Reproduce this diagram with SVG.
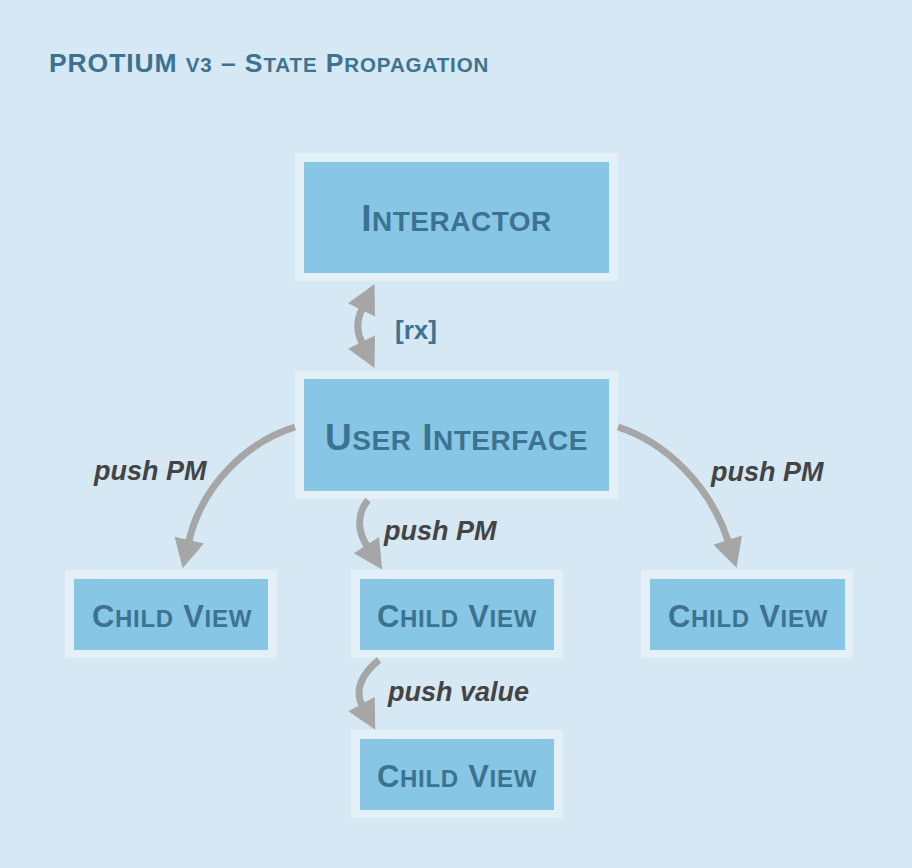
<svg xmlns="http://www.w3.org/2000/svg" width="912" height="868" viewBox="0 0 912 868">
<style>
.outer{fill:#e3f0f8}
.inner{fill:#87c6e5}
.nt{font-family:"Liberation Sans",Arial,sans-serif;font-weight:bold;fill:#3c7390;text-anchor:middle;letter-spacing:0.5px}
.cv{letter-spacing:0.7px}
.lbl{font-family:"Liberation Sans",Arial,sans-serif;font-weight:bold;font-style:italic;fill:#444;font-size:27px}
.conn{fill:none;stroke:#a6a6a6;stroke-width:7}
</style>
<defs>
<marker id="ah" markerUnits="userSpaceOnUse" markerWidth="34" markerHeight="34" refX="1" refY="15" orient="auto-start-reverse" overflow="visible">
<path d="M0,0 L29,15 L0,30 z" fill="#a6a6a6"/>
</marker>
</defs>
<rect width="912" height="868" fill="#d6e8f3"/>
<text x="49" y="72" font-family="Liberation Sans,Arial,sans-serif" font-weight="bold" fill="#3c7390" font-size="26.5" letter-spacing="0.9">PROTIUM <tspan font-size="20.5">V3</tspan> – S<tspan font-size="20.5">TATE</tspan> P<tspan font-size="20.5">ROPAGATION</tspan></text>

<g id="interactor">
<rect class="outer" x="295" y="153" width="323" height="128"/>
<rect class="inner" x="304" y="162" width="305" height="111"/>
<text class="nt" x="456.5" y="231" font-size="37">I<tspan font-size="28">NTERACTOR</tspan></text>
</g>
<g id="user-interface">
<rect class="outer" x="295" y="371" width="323" height="128"/>
<rect class="inner" x="304" y="379" width="305" height="112"/>
<text class="nt" x="456.5" y="450" font-size="37">U<tspan font-size="28">SER</tspan> I<tspan font-size="28">NTERFACE</tspan></text>
</g>
<g id="child-left">
<rect class="outer" x="65" y="570" width="212" height="88"/>
<rect class="inner" x="74" y="579" width="194" height="71"/>
<text class="nt cv" x="172" y="627" font-size="31">C<tspan font-size="24">HILD</tspan> V<tspan font-size="24">IEW</tspan></text>
</g>
<g id="child-middle">
<rect class="outer" x="351" y="570" width="212" height="88"/>
<rect class="inner" x="360" y="579" width="194" height="71"/>
<text class="nt cv" x="457" y="627" font-size="31">C<tspan font-size="24">HILD</tspan> V<tspan font-size="24">IEW</tspan></text>
</g>
<g id="child-right">
<rect class="outer" x="641" y="570" width="212" height="88"/>
<rect class="inner" x="650" y="579" width="195" height="71"/>
<text class="nt cv" x="748" y="627" font-size="31">C<tspan font-size="24">HILD</tspan> V<tspan font-size="24">IEW</tspan></text>
</g>
<g id="child-bottom">
<rect class="outer" x="351" y="730" width="212" height="88"/>
<rect class="inner" x="360" y="739" width="194" height="71"/>
<text class="nt cv" x="457" y="787" font-size="31">C<tspan font-size="24">HILD</tspan> V<tspan font-size="24">IEW</tspan></text>
</g>

<g id="connectors">
<path class="conn" d="M362 309 Q353.5 326 362 343" marker-start="url(#ah)" marker-end="url(#ah)"/>
<path class="conn" d="M295 427 C247 442 202 485 189 541" marker-end="url(#ah)"/>
<path class="conn" d="M618 427 C665 442 710 485 728 541" marker-end="url(#ah)"/>
<path class="conn" d="M368 500 C356 515 358 532 367 546" marker-end="url(#ah)"/>
<path class="conn" d="M379 660 C360 675 355 692 362 705" marker-end="url(#ah)"/>
<text x="395" y="339" font-family="Liberation Sans,Arial,sans-serif" font-weight="bold" fill="#3c7390" font-size="26">[rx]</text>
<text class="lbl" x="94" y="480">push PM</text>
<text class="lbl" x="711" y="481">push PM</text>
<text class="lbl" x="384" y="540">push PM</text>
<text class="lbl" x="388" y="701">push value</text>
</g>
</svg>
